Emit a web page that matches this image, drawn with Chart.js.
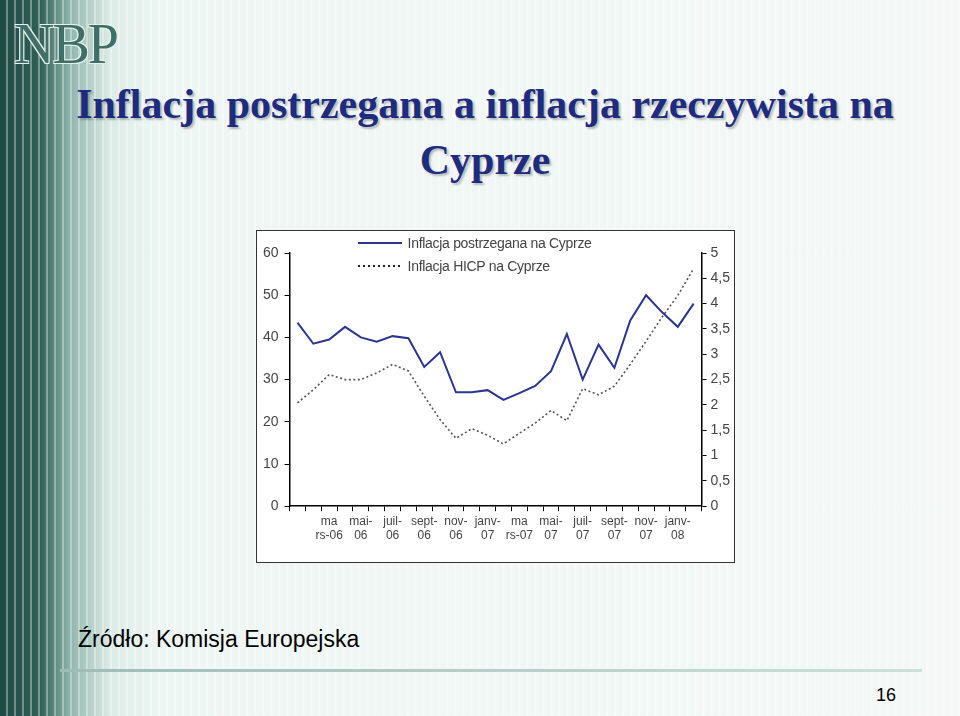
<!DOCTYPE html>
<html><head><meta charset="utf-8">
<script src="https://cdn.jsdelivr.net/npm/chart.js@4"></script>
<style>
body{margin:0;width:960px;height:716px;overflow:hidden;font-family:"Liberation Sans",Arial,sans-serif;
background:linear-gradient(90deg,#1f4a44 0px,#2f5f58 40px,#8fb5ac 70px,#dcebe6 110px,#eef6f3 160px,#f3f8f6 100%);position:relative}
.stripes{position:absolute;left:0;top:0;width:960px;height:716px;background:repeating-linear-gradient(90deg,rgba(255,255,255,0) 0 6px,rgba(255,255,255,.35) 6px 8px)}
#logo{position:absolute;left:14px;top:12px;font-family:"Liberation Serif",serif;font-size:56px;color:#3f6f68;letter-spacing:-2px;text-shadow:1px 1px 0 #e8f0ec,-1px -1px 0 #e8f0ec,1px -1px 0 #e8f0ec,-1px 1px 0 #e8f0ec}
#title{position:absolute;left:70px;top:76px;width:830px;text-align:center;font-family:"Liberation Serif",serif;font-weight:bold;font-size:42px;line-height:56px;color:#1d2c80;text-shadow:2px 2px 2px rgba(0,0,0,.25)}
#box{position:absolute;left:256px;top:230px;width:477px;height:331px;background:#fff;border:1px solid #333}
#legend{position:absolute;left:358px;top:232px;font-size:14px;color:#444;line-height:23px;letter-spacing:-0.3px}
#src{position:absolute;left:78px;top:626px;font-size:23px;color:#000}
#line{position:absolute;left:60px;top:669px;width:862px;height:3px;background:linear-gradient(90deg,#9fbdb5,#cde0da)}
#pg{position:absolute;left:876px;top:685px;font-size:18px}
</style></head><body>
<div class="stripes"></div>
<div id="logo">NBP</div>
<div id="title">Inflacja postrzegana a inflacja rzeczywista na<br>Cyprze</div>
<div id="box"><canvas id="c" width="477" height="331"></canvas></div>
<div id="legend">
<div><svg width="46" height="10"><line x1="0" y1="5" x2="44" y2="5" stroke="#2b3590" stroke-width="2"/></svg> Inflacja postrzegana na Cyprze</div>
<div><svg width="46" height="10"><line x1="0" y1="5" x2="44" y2="5" stroke="#222" stroke-width="2" stroke-dasharray="2,3"/></svg> Inflacja HICP na Cyprze</div>
</div>
<div id="src">Źródło: Komisja Europejska</div>
<div id="line"></div>
<div id="pg">16</div>
<script>
const months=["janv-06","févr-06","mars-06","avr-06","mai-06","juin-06","juil-06","août-06","sept-06","oct-06","nov-06","déc-06","janv-07","févr-07","mars-07","avr-07","mai-07","juin-07","juil-07","août-07","sept-07","oct-07","nov-07","déc-07","janv-08","févr-08"];
const tickLabels={2:["ma","rs-06"],4:["mai-","06"],6:["juil-","06"],8:["sept-","06"],10:["nov-","06"],12:["janv-","07"],14:["ma","rs-07"],16:["mai-","07"],18:["juil-","07"],20:["sept-","07"],22:["nov-","07"],24:["janv-","08"]};
const perceived=[43.5,38.5,39.5,42.5,40,39,40.3,39.8,33,36.5,27,27,27.5,25.2,26.8,28.5,32,40.8,30,38.3,32.8,44,50,46,42.5,48];
const hicp=[2.04,2.3,2.6,2.5,2.5,2.63,2.8,2.67,2.17,1.71,1.34,1.53,1.4,1.23,1.44,1.64,1.89,1.69,2.32,2.2,2.37,2.8,3.26,3.73,4.16,4.69];
const leftTicks=[0,10,20,30,40,50,60];
const rightTicks=[0,0.5,1,1.5,2,2.5,3,3.5,4,4.5,5];
const tf={family:"Liberation Sans",size:14};
const xf={family:"Liberation Sans",size:12};
new Chart(document.getElementById('c'),{type:'line',
data:{labels:months,datasets:[
{data:perceived,borderColor:'#2b3590',borderWidth:2,pointRadius:0,tension:0,yAxisID:'y'},
{data:hicp,borderColor:'#555',borderWidth:1.6,borderDash:[2,2.5],pointRadius:0,tension:0,yAxisID:'y1'}]},
options:{responsive:false,animation:false,layout:{padding:{top:22,right:0,left:0,bottom:16}},
plugins:{legend:{display:false},tooltip:{enabled:false}},
scales:{
x:{offset:true,grid:{display:true,drawOnChartArea:false,offset:true,color:'#000',tickLength:5},border:{color:'#000',width:1.5},
 ticks:{autoSkip:false,maxRotation:0,color:'#444',font:xf,callback:(v,i)=>tickLabels[i]||''}},
y:{position:'left',min:0,max:60,afterBuildTicks:a=>{a.ticks=leftTicks.map(v=>({value:v}))},grid:{drawOnChartArea:false,color:'#000',tickLength:5},border:{color:'#000',width:1.5},ticks:{color:'#444',font:tf,padding:6}},
y1:{position:'right',min:0,max:5,afterBuildTicks:a=>{a.ticks=rightTicks.map(v=>({value:v}))},grid:{drawOnChartArea:false,color:'#000',tickLength:5},border:{color:'#000',width:1.5},ticks:{color:'#444',font:tf,padding:4,callback:v=>String(v).replace('.',',')}}
}}});
</script>
</body></html>
